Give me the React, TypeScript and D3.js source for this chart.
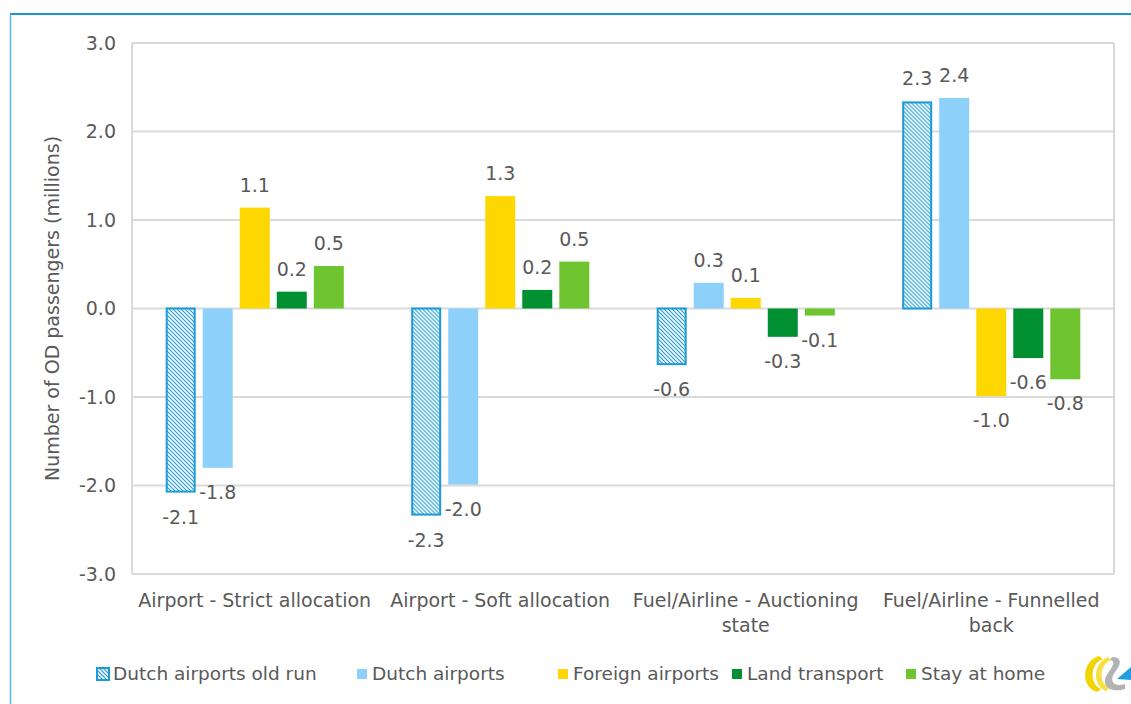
import React, { useMemo } from "react";
import * as d3 from "d3";

const categories = [
  "Airport - Strict allocation",
  "Airport - Soft allocation",
  "Fuel/Airline - Auctioning state",
  "Fuel/Airline - Funnelled back",
];
const seriesNames = [
  "Dutch airports old run",
  "Dutch airports",
  "Foreign airports",
  "Land transport",
  "Stay at home",
];
const dutchOldRun = [-2.08, -2.34, -0.64, 2.34];
const dutchAirports = [-1.8, -1.99, 0.29, 2.38];
const foreignAirports = [1.14, 1.27, 0.12, -0.99];
const landTransport = [0.19, 0.21, -0.32, -0.56];
const stayAtHome = [0.48, 0.53, -0.08, -0.8];
const yTicks = [-3, -2, -1, 0, 1, 2, 3];
const seriesColors = ["url(#hatch)", "#8dd1fb", "#ffd700", "#008f31", "#6ec530"];

const W = 1131;
const H = 704;
const FONT = "'DejaVu Sans', Verdana, sans-serif";
const TEXT = "#595959";

const locale = d3.formatLocale({
  decimal: ".",
  thousands: ",",
  grouping: [3],
  currency: ["", ""],
  minus: "-",
});
const fmt = locale.format(".1f");

function measure(text: string, font: string): number {
  const c = document.createElement("canvas");
  const ctx = c.getContext("2d");
  if (!ctx) return text.length * 10;
  ctx.font = font;
  return ctx.measureText(text).width;
}

function wrap(text: string, width: number, font: string): string[] {
  const words = text.split(" ");
  const lines: string[] = [];
  let line = "";
  for (const w of words) {
    const test = line ? line + " " + w : w;
    if (line && measure(test, font) > width) {
      lines.push(line);
      line = w;
    } else line = test;
  }
  if (line) lines.push(line);
  return lines;
}

export default function App() {
  const series = [dutchOldRun, dutchAirports, foreignAirports, landTransport, stayAtHome];
  const plot = { left: 132, right: 1114, top: 43, bottom: 574 };

  const x0 = d3.scaleBand<string>().domain(categories).range([plot.left, plot.right]).padding(0);
  const x1 = d3
    .scaleBand<string>()
    .domain(seriesNames)
    .range([0, x0.bandwidth()])
    .paddingInner(0.19)
    .paddingOuter(0.91);
  const y = d3.scaleLinear().domain([-3, 3]).range([plot.bottom, plot.top]);

  const catFont = `19px 'DejaVu Sans'`;
  const catLines = useMemo(
    () => categories.map((c) => wrap(c, x0.bandwidth() - 6, catFont)),
    []
  );

  const legendX = [97, 356, 557, 731, 905];

  return (
    <svg
      width={W}
      height={H}
      style={{ position: "absolute", left: 0, top: 0, background: "#fff" }}
      fontFamily={FONT}
    >
      <defs>
        <pattern id="hatch" patternUnits="userSpaceOnUse" width={4} height={4}>
          <rect width={4} height={4} fill="#fff" />
          <path d="M0,0 L4,4 M-1,3 L1,5 M3,-1 L5,1" stroke="#1b9ad6" strokeWidth={1.1} />
        </pattern>
      </defs>
      {/* frame */}
      <line x1={10} y1={14} x2={W} y2={14} stroke="#1b95d3" strokeWidth={2} />
      <line x1={10.5} y1={14} x2={10.5} y2={H} stroke="#5ab8e6" strokeWidth={1.5} />

      {/* gridlines */}
      {yTicks.map((t) => (
        <line
          key={t}
          x1={plot.left}
          x2={plot.right}
          y1={y(t)}
          y2={y(t)}
          stroke="#d9d9d9"
          strokeWidth={2}
        />
      ))}
      <line x1={plot.left} x2={plot.left} y1={plot.top} y2={plot.bottom} stroke="#d9d9d9" strokeWidth={2} />
      <line x1={plot.right} x2={plot.right} y1={plot.top} y2={plot.bottom} stroke="#d9d9d9" strokeWidth={2} />

      {/* y tick labels */}
      {yTicks.map((t) => (
        <text
          key={t}
          x={116}
          y={y(t)}
          dy="0.35em"
          textAnchor="end"
          fontSize={19}
          fill={TEXT}
        >
          {fmt(t)}
        </text>
      ))}

      {/* y title */}
      <text
        transform={`translate(59,${(plot.top + plot.bottom) / 2}) rotate(-90)`}
        textAnchor="middle"
        fontSize={19}
        fill={TEXT}
      >
        Number of OD passengers (millions)
      </text>

      {/* bars */}
      {categories.map((c, ci) => (
        <g key={c} transform={`translate(${x0(c)},0)`}>
          {seriesNames.map((s, si) => {
            const v = series[si][ci];
            const bx = x1(s)!;
            const bw = x1.bandwidth();
            const top = y(Math.max(0, v));
            const bot = y(Math.min(0, v));
            const hatched = si === 0;
            return (
              <g key={s}>
                <rect
                  x={hatched ? bx + 1 : bx}
                  y={hatched ? top + (v > 0 ? 1 : 0) : top}
                  width={hatched ? bw - 2 : bw}
                  height={hatched ? bot - top - 1 : bot - top}
                  fill={seriesColors[si]}
                  stroke={hatched ? "#1b9ad6" : "none"}
                  strokeWidth={hatched ? 2 : 0}
                />
                <text
                  x={bx + bw / 2}
                  y={v >= 0 ? top - 16 : bot + 31}
                  textAnchor="middle"
                  fontSize={19}
                  fill={TEXT}
                >
                  {fmt(v)}
                </text>
              </g>
            );
          })}
        </g>
      ))}

      {/* category labels */}
      {categories.map((c, ci) => (
        <text
          key={c}
          x={x0(c)! + x0.bandwidth() / 2}
          y={607}
          textAnchor="middle"
          fontSize={19}
          fill={TEXT}
        >
          {catLines[ci].map((l, li) => (
            <tspan key={li} x={x0(c)! + x0.bandwidth() / 2} dy={li === 0 ? 0 : 25}>
              {l}
            </tspan>
          ))}
        </text>
      ))}

      {/* legend */}
      {seriesNames.map((s, si) => (
        <g key={s} transform={`translate(${legendX[si]},674)`}>
          {si === 0 ? (
            <rect x={0} y={-6} width={12} height={12} fill="url(#hatch)" stroke="#1b9ad6" strokeWidth={2} />
          ) : (
            <rect x={1} y={-5} width={10} height={10} fill={seriesColors[si]} />
          )}
          <text x={16} y={0} dy="0.35em" fontSize={18.5} fill={TEXT}>
            {s}
          </text>
        </g>
      ))}

      {/* logo */}
      <g>
        <path d="M1099,656 C1083,660 1079,686 1097,692 L1101,689 C1089,684 1090,663 1103,659 Z" fill="#f2d400" />
        <path d="M1108,657 C1094,662 1091,685 1106,691 L1109,688 C1098,682 1100,664 1111,660 Z" fill="#f7e040" />
        <path
          d="M1112,657 C1123,657 1121,665 1115,672 C1109,680 1113,688 1125,684 L1125,689 C1108,694 1100,684 1108,673 C1113,666 1116,661 1110,660 Z"
          fill="#b3b3b3"
        />
        <path d="M1117,679 L1131,667 L1131,680 Z" fill="#1f9de0" />
      </g>
    </svg>
  );
}
